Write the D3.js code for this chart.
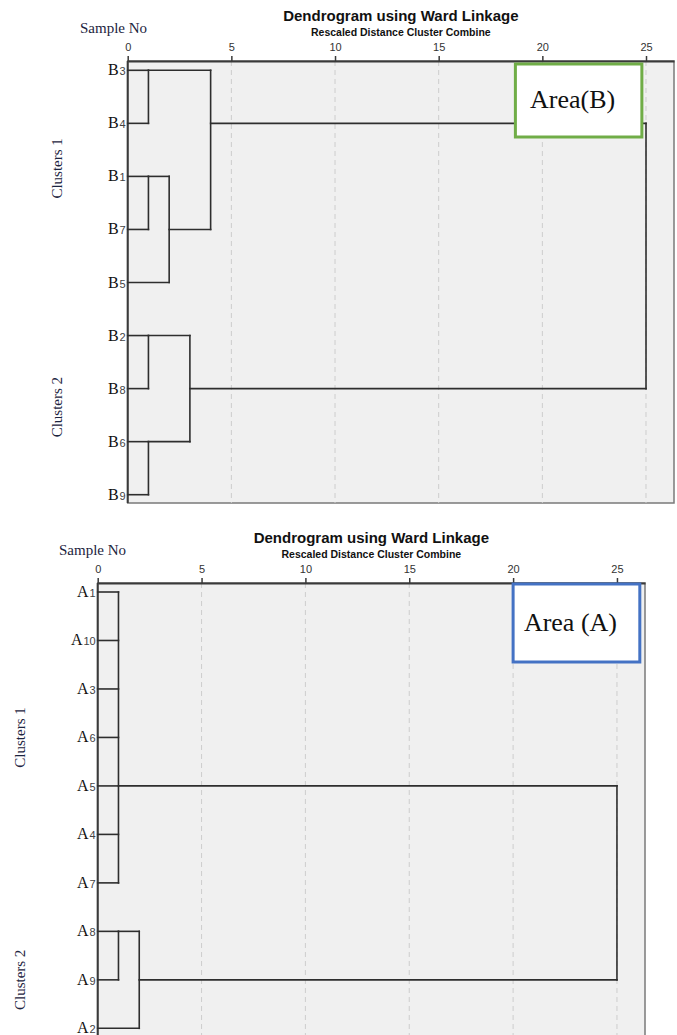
<!DOCTYPE html>
<html>
<head>
<meta charset="utf-8">
<script src="https://cdn.jsdelivr.net/npm/d3@7"></script>
<style>
    body { margin: 0; background: #fff; }
    svg { display: block; }
</style>
</head>
<body>
<div id="chart"></div>
<script>
// distance axis ticks (shared by both panels)
const distTicks = [0, 5, 10, 15, 20, 25];

// Area (B) - leaf order top to bottom
const leavesB = ["B3", "B4", "B1", "B7", "B5", "B2", "B8", "B6", "B9"];
// merges: children, rescaled distance, leaf row where the joined branch leaves
const mergesB = [
    { id: "b1", kids: ["B3", "B4"], dist: 1, out: "B3" },
    { id: "b2", kids: ["B1", "B7"], dist: 1, out: "B1" },
    { id: "b3", kids: ["b2", "B5"], dist: 2, out: "B7" },
    { id: "b4", kids: ["b1", "b3"], dist: 4, out: "B4" },
    { id: "b5", kids: ["B2", "B8"], dist: 1, out: "B2" },
    { id: "b6", kids: ["B6", "B9"], dist: 1, out: "B6" },
    { id: "b7", kids: ["b5", "b6"], dist: 3, out: "B8" },
    { id: "b8", kids: ["b4", "b7"], dist: 25, out: null }
];
const clustersB = [
    { name: "Clusters 1", first: "B3", last: "B5" },
    { name: "Clusters 2", first: "B2", last: "B9" }
];

// Area (A)
const leavesA = ["A1", "A10", "A3", "A6", "A5", "A4", "A7", "A8", "A9", "A2"];
const mergesA = [
    { id: "a1", kids: ["A1", "A10", "A3", "A6", "A5", "A4", "A7"], dist: 1, out: "A5" },
    { id: "a2", kids: ["A8", "A9"], dist: 1, out: "A8" },
    { id: "a3", kids: ["a2", "A2"], dist: 2, out: "A9" },
    { id: "a4", kids: ["a1", "a3"], dist: 25, out: null }
];
const clustersA = [
    { name: "Clusters 1", first: "A1", last: "A7" },
    { name: "Clusters 2", first: "A8", last: "A2" }
];

const SERIF = "'Liberation Serif', 'Times New Roman', serif";
const SANS = "'Liberation Sans', Arial, sans-serif";

class Dendrogram {
    constructor(svg, leaves, merges, clusters, cfg) {
        this.svg = svg;
        this.leaves = leaves;
        this.merges = merges;
        this.clusters = clusters;
        this.cfg = cfg;
        this.initVis();
    }

    initVis() {
        let vis = this;
        let c = vis.cfg;
        vis.g = vis.svg.append("g");

        vis.x = d3.scaleLinear()
            .domain([0, 26.35])
            .range([c.left, c.right]);

        vis.y = d3.scalePoint()
            .domain(vis.leaves)
            .range([c.axisY + c.rowPadTop, c.axisY + c.rowPadTop + c.rowStep * (vis.leaves.length - 1)]);

        vis.wrangleData();
    }

    wrangleData() {
        let vis = this;
        let node = {};
        vis.leaves.forEach(l => { node[l] = { dist: 0, y: vis.y(l) }; });

        // horizontal piece per child + one vertical per merge
        vis.segments = [];
        vis.merges.forEach(m => {
            let ys = [];
            m.kids.forEach(k => {
                let n = node[k];
                ys.push(n.y);
                vis.segments.push({ x1: n.dist, x2: m.dist, y1: n.y, y2: n.y });
            });
            vis.segments.push({ x1: m.dist, x2: m.dist, y1: d3.min(ys), y2: d3.max(ys) });
            node[m.id] = { dist: m.dist, y: m.out ? vis.y(m.out) : null };
        });

        vis.updateVis();
    }

    updateVis() {
        let vis = this;
        let c = vis.cfg;

        // plot background
        vis.g.append("rect")
            .attr("x", c.left)
            .attr("y", c.axisY)
            .attr("width", c.right - c.left)
            .attr("height", c.bottom - c.axisY)
            .attr("fill", "#f0f0f0")
            .attr("stroke", "#7a7a7a")
            .attr("stroke-width", 1.5);

        // dashed grid
        vis.g.selectAll(".grid")
            .data(distTicks.filter(d => d > 0))
            .enter()
            .append("line")
            .attr("class", "grid")
            .attr("x1", d => vis.x(d))
            .attr("x2", d => vis.x(d))
            .attr("y1", c.axisY)
            .attr("y2", c.bottom)
            .attr("stroke", "#cdcdcd")
            .attr("stroke-width", 1)
            .attr("stroke-dasharray", "5,4");

        // left border
        vis.g.append("line")
            .attr("x1", c.left).attr("x2", c.left)
            .attr("y1", c.axisY).attr("y2", c.bottom)
            .attr("stroke", "#3a3a3a")
            .attr("stroke-width", 2);

        // top axis
        let axis = vis.g.append("g")
            .attr("transform", `translate(0,${c.axisY})`)
            .call(d3.axisTop(vis.x).tickValues(distTicks).tickSize(5).tickSizeOuter(0).tickPadding(5));
        axis.select(".domain").attr("stroke", "#3a3a3a").attr("stroke-width", 2);
        axis.selectAll(".tick line").attr("stroke", "#3a3a3a").attr("stroke-width", 1.5);
        axis.selectAll(".tick text")
            .attr("fill", "#333")
            .style("font-family", SANS)
            .style("font-size", "11px");

        // titles
        let midX = (c.left + c.right) / 2;
        vis.g.append("text")
            .attr("x", midX).attr("y", c.axisY - 40)
            .attr("text-anchor", "middle")
            .style("font-family", SANS).style("font-size", "15px").style("font-weight", "bold")
            .attr("fill", "#111")
            .text("Dendrogram using Ward Linkage");
        vis.g.append("text")
            .attr("x", midX).attr("y", c.axisY - 25)
            .attr("text-anchor", "middle")
            .style("font-family", SANS).style("font-size", "10.5px").style("font-weight", "bold")
            .attr("fill", "#111")
            .text("Rescaled Distance Cluster Combine");

        vis.g.append("text")
            .attr("x", c.sampleX).attr("y", c.axisY - 28)
            .style("font-family", SERIF).style("font-size", "15px")
            .attr("fill", "#1c2440")
            .text("Sample No");

        // dendrogram links
        vis.g.selectAll(".link")
            .data(vis.segments)
            .enter()
            .append("line")
            .attr("class", "link")
            .attr("x1", d => vis.x(d.x1))
            .attr("x2", d => vis.x(d.x2))
            .attr("y1", d => d.y1)
            .attr("y2", d => d.y2)
            .attr("stroke", "#2e2e2e")
            .attr("stroke-width", 1.6)
            .attr("stroke-linecap", "square");

        // leaf labels: serif letter + small sans number
        let labels = vis.g.selectAll(".leaf")
            .data(vis.leaves)
            .enter()
            .append("text")
            .attr("class", "leaf")
            .attr("x", c.left - 2)
            .attr("y", d => vis.y(d) + 5)
            .attr("text-anchor", "end");
        labels.append("tspan")
            .style("font-family", SERIF).style("font-size", "16px")
            .attr("fill", "#111")
            .text(d => d.slice(0, 1));
        labels.append("tspan")
            .attr("dx", 1)
            .style("font-family", SANS).style("font-size", "11px")
            .attr("fill", "#444")
            .text(d => d.slice(1));

        // cluster labels
        vis.g.selectAll(".cluster")
            .data(vis.clusters)
            .enter()
            .append("text")
            .attr("class", "cluster")
            .attr("transform", d => `translate(${c.clusterX},${(vis.y(d.first) + vis.y(d.last)) / 2 - c.clusterShift}) rotate(-90)`)
            .attr("text-anchor", "middle")
            .style("font-family", SERIF).style("font-size", "15px")
            .attr("fill", "#1c2440")
            .text(d => d.name);

        // area annotation box
        let b = c.box;
        vis.g.append("rect")
            .attr("x", vis.x(b.from))
            .attr("y", b.y)
            .attr("width", vis.x(b.to) - vis.x(b.from))
            .attr("height", b.h)
            .attr("fill", "#fff")
            .attr("stroke", b.color)
            .attr("stroke-width", 3);
        vis.g.append("text")
            .attr("x", (vis.x(b.from) + vis.x(b.to)) / 2 - 6)
            .attr("y", b.y + b.textDy)
            .attr("text-anchor", "middle")
            .style("font-family", SERIF).style("font-size", "26px")
            .attr("fill", "#111")
            .text(b.label);
    }
}

let svg = d3.select("#chart")
    .append("svg")
    .attr("width", 677)
    .attr("height", 1035);

new Dendrogram(svg, leavesB, mergesB, clustersB, {
    left: 127.7, right: 674, axisY: 61, bottom: 503,
    rowPadTop: 9.3, rowStep: 53.05,
    sampleX: 80, clusterX: 62, clusterShift: 8,
    box: { from: 18.7, to: 24.8, y: 64, h: 73, textDy: 44, color: "#70ad47", label: "Area(B)" }
});

new Dendrogram(svg, leavesA, mergesA, clustersA, {
    left: 97.7, right: 645, axisY: 583, bottom: 1040,
    rowPadTop: 9, rowStep: 48.48,
    sampleX: 59, clusterX: 25, clusterShift: 0,
    box: { from: 20, to: 26.1, y: 584, h: 78, textDy: 47, color: "#4472c4", label: "Area (A)" }
});
</script>
</body>
</html>
